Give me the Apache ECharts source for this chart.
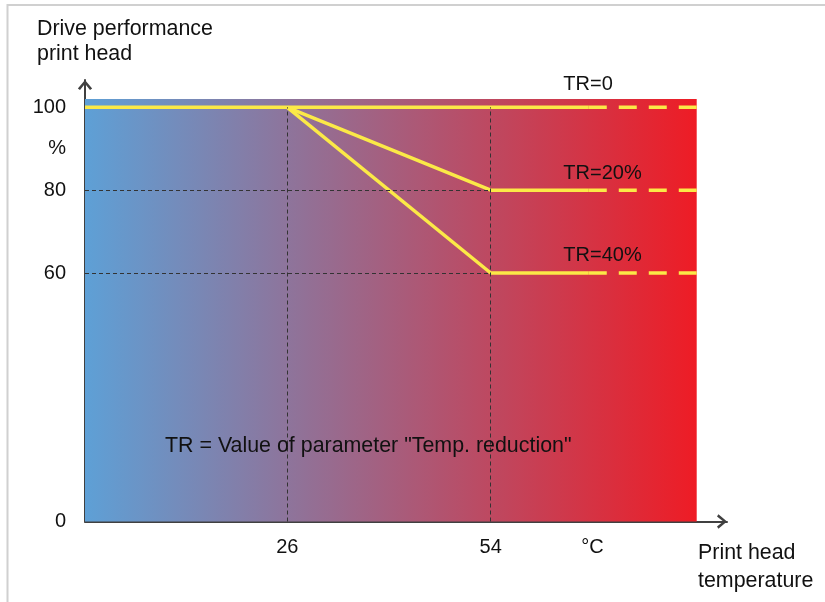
<!DOCTYPE html>
<html>
<head>
<meta charset="utf-8">
<script src="https://cdn.jsdelivr.net/npm/echarts@6/dist/echarts.min.js"></script>
<style>
  html, body { margin: 0; padding: 0; background: #fff; }
  #main { width: 825px; height: 602px; }
</style>
</head>
<body>
<div id="main"></div>
<script>
// knee temperatures of the derating curve
var kneeTemps = [26, 54];
// curves: name, level reached after the knee
var trNames = ['TR=0', 'TR=20%', 'TR=40%'];
var trLevels = [100, 80, 60];
var trLabelY = [105.4, 84, 64.3];
var trLabelX = 64;
// x range (schematic axis, no zero)
var xStart = -1.85;
var solidEnd = 67.5;
var plotRight = 82.36;
var plotTop = 102;
// tick labels
var yTicks = [0, 60, 80, 90, 100];
var xTicks = [26, 54, 68];

var yellow = '#fbe947';
var axisColor = '#404040';
var textColor = '#111';
var font = 'Liberation Sans';
var fs = 20;
var titleFs = 21.4;

var chevron = 'path://M5,0 L10,6 L8.5,7 L5,2.6 L1.5,7 L0,6 Z';

var series = [];

// background + reference dashed lines
series.push({
  type: 'line',
  data: [],
  z: 1,
  silent: true,
  markArea: {
    silent: true,
    itemStyle: {
      color: new echarts.graphic.LinearGradient(0, 0, 1, 0, [
        { offset: 0, color: '#5ea0d6' },
        { offset: 1, color: '#ee1c25' }
      ])
    },
    data: [[{ coord: [xStart, 0] }, { coord: [plotRight, plotTop] }]]
  },
  markLine: {
    silent: true,
    symbol: ['none', 'none'],
    label: { show: false },
    lineStyle: { color: '#333', width: 1, type: [4, 3] },
    data: [
      [{ coord: [kneeTemps[0], 0] }, { coord: [kneeTemps[0], 100] }],
      [{ coord: [kneeTemps[1], 0] }, { coord: [kneeTemps[1], 100] }],
      [{ coord: [xStart, trLevels[1]] }, { coord: [kneeTemps[1], trLevels[1]] }],
      [{ coord: [xStart, trLevels[2]] }, { coord: [kneeTemps[1], trLevels[2]] }]
    ]
  }
});

trLevels.forEach(function (lvl, i) {
  var pts;
  if (i === 0) {
    pts = [[xStart, 100], [solidEnd, 100]];
  } else {
    pts = [[kneeTemps[0], 100], [kneeTemps[1], lvl], [solidEnd, lvl]];
  }
  series.push({
    type: 'line',
    name: trNames[i],
    data: pts,
    z: 3,
    symbol: 'none',
    silent: true,
    lineStyle: { color: yellow, width: 3.5 },
    markPoint: {
      silent: true,
      symbol: 'circle',
      symbolSize: 0,
      data: [{ coord: [trLabelX, trLabelY[i]] }],
      label: {
        show: true,
        formatter: trNames[i],
        position: 'right',
        distance: 0,
        color: textColor,
        fontFamily: font,
        fontSize: fs
      }
    }
  });
  series.push({
    type: 'line',
    data: [[solidEnd, lvl], [plotRight, lvl]],
    z: 3,
    symbol: 'none',
    silent: true,
    lineStyle: { color: yellow, width: 3.5, type: [18, 12] }
  });
});

var chart = echarts.init(document.getElementById('main'));
chart.setOption({
  animation: false,
  backgroundColor: '#fff',
  title: [
    {
      text: 'Drive performance\nprint head',
      left: 37, top: 17, padding: 0,
      textStyle: { fontFamily: font, fontSize: titleFs, fontWeight: 'normal', color: textColor, lineHeight: 25 }
    },
    {
      text: 'Print head\ntemperature',
      left: 698, top: 539, padding: 0,
      textStyle: { fontFamily: font, fontSize: titleFs, fontWeight: 'normal', color: textColor, lineHeight: 28 }
    },
    {
      text: 'TR = Value of parameter "Temp. reduction"',
      left: 165, top: 434, padding: 0,
      textStyle: { fontFamily: font, fontSize: titleFs, fontWeight: 'normal', color: textColor, lineHeight: 24 }
    }
  ],
  graphic: [{
    type: 'rect',
    silent: true,
    shape: { x: 7.5, y: 5, width: 840, height: 620 },
    style: { fill: null, stroke: '#d0d0d0', lineWidth: 2 },
    z: 100
  }],
  grid: { left: 85, right: 98, top: 80, bottom: 80.5, containLabel: false },
  xAxis: {
    type: 'value',
    min: xStart,
    max: 86.53,
    splitLine: { show: false },
    axisTick: { show: false },
    axisLine: {
      show: true,
      onZero: false,
      symbol: ['none', chevron],
      symbolSize: [16, 10],
      symbolOffset: [0, -5],
      lineStyle: { color: axisColor, width: 2 }
    },
    axisLabel: {
      customValues: xTicks,
      formatter: function (v) { return v === 68 ? '°C' : String(v); },
      margin: 16,
      color: textColor,
      fontFamily: font,
      fontSize: fs
    }
  },
  yAxis: {
    type: 'value',
    min: 0,
    max: 106.6,
    splitLine: { show: false },
    axisTick: { show: false },
    axisLine: {
      show: true,
      onZero: false,
      symbol: ['none', chevron],
      symbolSize: [16, 10],
      symbolOffset: [0, -5],
      lineStyle: { color: axisColor, width: 2 }
    },
    axisLabel: {
      customValues: yTicks,
      formatter: function (v) { return v === 90 ? '%' : String(v); },
      margin: 19,
      color: textColor,
      fontFamily: font,
      fontSize: fs
    }
  },
  series: series
});
</script>
</body>
</html>
